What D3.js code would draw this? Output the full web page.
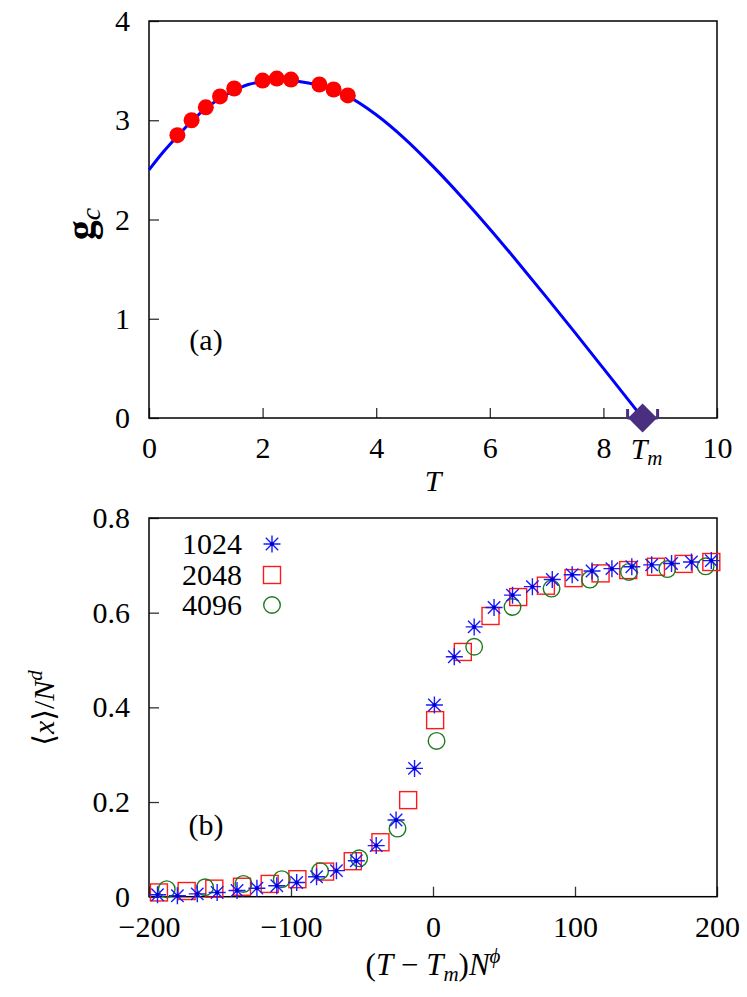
<!DOCTYPE html>
<html>
<head>
<meta charset="utf-8">
<script src="https://cdn.jsdelivr.net/npm/d3@7"></script>
<style>
  body { margin: 0; background: #fff; }
  text { font-family: "Liberation Serif", "DejaVu Serif", serif; fill: #000; }
</style>
</head>
<body>
<script>
// ---- panel (a) data ----
var curveT = [0, 0.25, 0.5, 0.75, 1.0, 1.25, 1.5, 1.75, 2.0, 2.25, 2.5, 2.75, 3.0, 3.25, 3.5, 4.0, 4.5, 5.0, 5.5, 6.0, 6.5, 7.0, 7.5, 8.0, 8.69];
var curveG = [2.50, 2.68, 2.84, 2.99, 3.12, 3.22, 3.30, 3.36, 3.39, 3.405, 3.40, 3.38, 3.35, 3.30, 3.24, 3.055, 2.815, 2.535, 2.23, 1.905, 1.565, 1.215, 0.86, 0.50, 0];
var pointT = [0.5, 0.75, 1.0, 1.25, 1.5, 2.0, 2.25, 2.5, 3.0, 3.25, 3.5];
var pointG = [2.85, 3.00, 3.13, 3.24, 3.32, 3.40, 3.42, 3.41, 3.36, 3.31, 3.25];
var tm = 8.69;
var topXTicks = [0, 2, 4, 6, 8, 10];
var topYTicks = [0, 1, 2, 3, 4];

// ---- panel (b) data ----
var sizes = ["1024", "2048", "4096"];
var x1024 = [-194, -180, -166, -152, -138, -124, -110, -96, -82, -68, -54, -40, -26, -13, 1, 15, 29, 43, 56, 70, 84, 98, 112, 126, 140, 154, 168, 182, 196];
var y1024 = [0.004, 0.002, 0.006, 0.009, 0.013, 0.018, 0.023, 0.030, 0.042, 0.055, 0.076, 0.108, 0.162, 0.271, 0.405, 0.507, 0.570, 0.611, 0.637, 0.655, 0.670, 0.680, 0.688, 0.693, 0.697, 0.701, 0.704, 0.707, 0.710];
var x2048 = [-193, -173.5, -154, -134.5, -115, -95.5, -76, -56.5, -37, -17.5, 1.5, 21, 40.5, 60, 79.5, 99, 118, 137.5, 157, 176.5, 196];
var y2048 = [0.009, 0.012, 0.017, 0.021, 0.027, 0.037, 0.053, 0.075, 0.115, 0.204, 0.373, 0.517, 0.593, 0.633, 0.657, 0.673, 0.683, 0.690, 0.697, 0.703, 0.707];
var x4096 = [-187.5, -160.5, -133.5, -106.5, -79.5, -52, -25, 2.5, 29, 56, 83.5, 110.5, 138, 165, 192];
var y4096 = [0.016, 0.020, 0.027, 0.037, 0.054, 0.081, 0.144, 0.329, 0.528, 0.612, 0.651, 0.670, 0.686, 0.692, 0.698];
var botXTicks = [-200, -100, 0, 100, 200];
var botYTicks = [0, 0.2, 0.4, 0.6, 0.8];

var svg = d3.select("body").append("svg")
    .attr("width", 747)
    .attr("height", 997);

var left = 149, right = 717;
var tickFont = 30;

// style an axis: inward ticks, no domain line
function styleAxis(g) {
    g.select(".domain").remove();
    g.selectAll(".tick line").attr("stroke", "#333").attr("stroke-width", 1.3);
    g.selectAll(".tick text").attr("font-size", tickFont).attr("font-family", "Liberation Serif, serif").attr("fill", "#000");
}

// ================= panel (a) =================
var aTop = 21, aBottom = 418;
var xA = d3.scaleLinear().domain([0, 10]).range([left, right]);
var yA = d3.scaleLinear().domain([0, 4]).range([aBottom, aTop]);

svg.append("g")
    .attr("transform", `translate(0, ${aBottom})`)
    .call(d3.axisBottom(xA).tickValues(topXTicks).tickSize(-10).tickPadding(19).tickFormat(d3.format("d")))
    .call(styleAxis);

svg.append("g")
    .attr("transform", `translate(${left}, 0)`)
    .call(d3.axisLeft(yA).tickValues(topYTicks).tickSize(-10).tickPadding(19).tickFormat(d3.format("d")))
    .call(styleAxis);

svg.append("rect")
    .attr("x", left).attr("y", aTop)
    .attr("width", right - left).attr("height", aBottom - aTop)
    .attr("fill", "none").attr("stroke", "#000").attr("stroke-width", 1.5);

var curveData = curveT.map((t, i) => [t, curveG[i]]);
svg.append("path")
    .datum(curveData)
    .attr("fill", "none")
    .attr("stroke", "#0000ff")
    .attr("stroke-width", 3)
    .attr("d", d3.line().x(d => xA(d[0])).y(d => yA(d[1])).curve(d3.curveMonotoneX));

svg.selectAll(".redpt")
    .data(pointT.map((t, i) => [t, pointG[i]]))
    .enter().append("circle")
    .attr("class", "redpt")
    .attr("cx", d => xA(d[0]))
    .attr("cy", d => yA(d[1]))
    .attr("r", 8)
    .attr("fill", "#ff0000");

// T_m marker: diamond with small horizontal error bar
var tmX = xA(tm), tmY = yA(0);
var purple = "#4a2f80";
svg.append("path")
    .attr("d", `M${tmX - 15},${tmY} H${tmX + 15} M${tmX - 15},${tmY - 9} V${tmY} M${tmX + 15},${tmY - 9} V${tmY}`)
    .attr("stroke", purple).attr("stroke-width", 3).attr("fill", "none");
svg.append("path")
    .attr("d", d3.symbol().type(d3.symbolSquare).size(420)())
    .attr("transform", `translate(${tmX}, ${tmY}) rotate(45)`)
    .attr("fill", purple);

var tmLabel = svg.append("text")
    .attr("x", tmX + 4).attr("y", 459)
    .attr("text-anchor", "middle")
    .attr("font-size", tickFont);
tmLabel.append("tspan").attr("font-style", "italic").text("T");
tmLabel.append("tspan").attr("font-style", "italic").attr("font-size", 21).attr("dy", 6).text("m");

svg.append("text")
    .attr("x", (left + right) / 2).attr("y", 491)
    .attr("text-anchor", "middle")
    .attr("font-size", tickFont)
    .attr("font-style", "italic")
    .text("T");

var gLabel = svg.append("text")
    .attr("transform", "translate(94, 224) rotate(-90)")
    .attr("text-anchor", "middle")
    .attr("font-size", 40);
gLabel.append("tspan").attr("font-weight", "bold").text("g");
gLabel.append("tspan").attr("font-style", "italic").attr("font-size", 28).attr("dy", 6).text("c");

svg.append("text")
    .attr("x", 206).attr("y", 350)
    .attr("text-anchor", "middle")
    .attr("font-size", tickFont)
    .text("(a)");

// ================= panel (b) =================
var bTop = 518, bBottom = 896.7;
var xB = d3.scaleLinear().domain([-200, 200]).range([left, right]);
var yB = d3.scaleLinear().domain([0, 0.8]).range([bBottom, bTop]);

svg.append("g")
    .attr("transform", `translate(0, ${bBottom})`)
    .call(d3.axisBottom(xB).tickValues(botXTicks).tickSize(-10).tickPadding(19))
    .call(styleAxis);

svg.append("g")
    .attr("transform", `translate(${left}, 0)`)
    .call(d3.axisLeft(yB).tickValues(botYTicks).tickSize(-10).tickPadding(19)
        .tickFormat(d => d === 0 ? "0" : d3.format(".1f")(d)))
    .call(styleAxis);

svg.append("rect")
    .attr("x", left).attr("y", bTop)
    .attr("width", right - left).attr("height", bBottom - bTop)
    .attr("fill", "none").attr("stroke", "#000").attr("stroke-width", 1.5);

var plot = svg.append("g");

function drawSquare(g, cx, cy) {
    g.append("rect")
        .attr("x", cx - 8.5).attr("y", cy - 8.5)
        .attr("width", 17).attr("height", 17)
        .attr("fill", "none").attr("stroke", "#ff1a1a").attr("stroke-width", 1.4);
}
function drawCircle(g, cx, cy) {
    g.append("circle")
        .attr("cx", cx).attr("cy", cy).attr("r", 8.3)
        .attr("fill", "none").attr("stroke", "#1f7a1f").attr("stroke-width", 1.4);
}
function drawStar(g, cx, cy) {
    var s = 8.5, d = 6.2;
    g.append("path")
        .attr("d", `M${cx - s},${cy} H${cx + s} M${cx},${cy - s} V${cy + s} M${cx - d},${cy - d} L${cx + d},${cy + d} M${cx - d},${cy + d} L${cx + d},${cy - d}`)
        .attr("stroke", "#1a1aff").attr("stroke-width", 1.4).attr("fill", "none");
    g.append("circle").attr("cx", cx).attr("cy", cy).attr("r", 2).attr("fill", "#0000cc");
}

x2048.forEach((v, i) => drawSquare(plot, xB(v), yB(y2048[i])));
x4096.forEach((v, i) => drawCircle(plot, xB(v), yB(y4096[i])));
x1024.forEach((v, i) => drawStar(plot, xB(v), yB(y1024[i])));

// legend
var legendY = [544, 575, 605];
var legendDraw = [drawStar, drawSquare, drawCircle];
sizes.forEach(function (s, i) {
    svg.append("text")
        .attr("x", 242).attr("y", legendY[i])
        .attr("dy", "0.33em")
        .attr("text-anchor", "end")
        .attr("font-size", tickFont)
        .text(s);
    legendDraw[i](svg, 272, legendY[i]);
});

svg.append("text")
    .attr("x", 206).attr("y", 835)
    .attr("text-anchor", "middle")
    .attr("font-size", tickFont)
    .text("(b)");

// axis labels
var yLab = svg.append("text")
    .attr("transform", "translate(54, 708) rotate(-90)")
    .attr("text-anchor", "middle")
    .attr("font-size", tickFont);
yLab.append("tspan").text("\u27E8");
yLab.append("tspan").attr("font-style", "italic").text("x");
yLab.append("tspan").text("\u27E9/");
yLab.append("tspan").attr("font-style", "italic").text("N");
yLab.append("tspan").attr("font-style", "italic").attr("font-size", 21).attr("dy", -12).text("d");

var xLab = svg.append("text")
    .attr("x", (left + right) / 2).attr("y", 975)
    .attr("text-anchor", "middle")
    .attr("font-size", 31);
xLab.append("tspan").text("(");
xLab.append("tspan").attr("font-style", "italic").text("T");
xLab.append("tspan").text(" \u2212 ");
xLab.append("tspan").attr("font-style", "italic").text("T");
xLab.append("tspan").attr("font-style", "italic").attr("font-size", 21).attr("dy", 6).text("m");
xLab.append("tspan").attr("dy", -6).text(")");
xLab.append("tspan").attr("font-style", "italic").text("N");
xLab.append("tspan").attr("font-style", "italic").attr("font-size", 21).attr("dy", -12).text("\u03D5");
</script>
</body>
</html>
